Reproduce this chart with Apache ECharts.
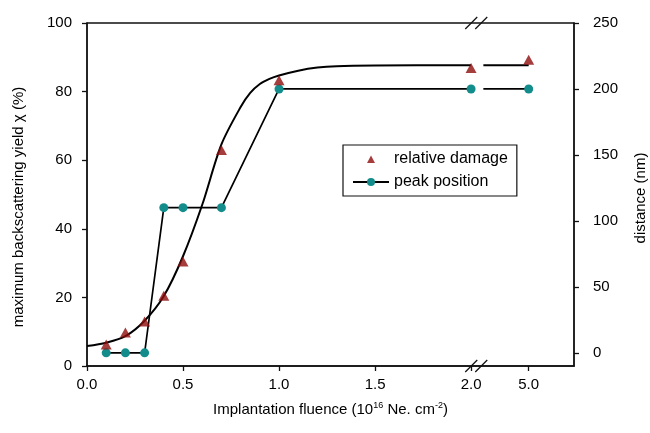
<!DOCTYPE html>
<html>
<head>
<meta charset="utf-8">
<script src="https://cdn.jsdelivr.net/npm/echarts@6/dist/echarts.min.js"></script>
<style>
  html, body { margin: 0; padding: 0; background: #fff; }
  #chart { width: 650px; height: 433px; }
</style>
</head>
<body>
<div id="chart"></div>
<script>
// Implantation fluence of each sample (10^16 Ne cm^-2)
const fluence = [0.1, 0.2, 0.3, 0.4, 0.5, 0.7, 1.0, 2.0, 5.0];
// Relative damage: maximum backscattering yield chi (%)
const relativeDamage = [6.3, 9.8, 13.0, 20.5, 30.5, 63.0, 83.3, 86.9, 89.3];
// Depth of the damage peak (nm)
const peakPosition = [0, 0, 0, 110, 110, 110, 200, 200, 200];
// Smooth trend through the damage values
const trendFluence = [0, 0.1, 0.2, 0.3, 0.4, 0.5, 0.6, 0.7, 0.8, 0.85, 0.9, 0.95, 1.0, 1.1, 1.2, 1.3, 1.5, 2.0, 5.0];
const trendYield = [5.8, 6.8, 8.7, 13.2, 20.4, 32.0, 47.0, 64.6, 75.5, 79.6, 82.2, 83.7, 84.7, 86.1, 87.0, 87.4, 87.6, 87.7, 87.7];
// Axis ticks
const xTickFluence = [0, 0.5, 1.0, 1.5, 2.0, 5.0];
const xTickLabels = ['0.0', '0.5', '1.0', '1.5', '2.0', '5.0'];
const yLeftTicks = [0, 20, 40, 60, 80, 100];
const yRightTicks = [0, 50, 100, 150, 200, 250];

// Broken x axis: linear up to 2.0, the stretch beyond is compressed.
const BREAK_FROM = 2.0;
const COMPRESS = 0.1;
const BREAK_MARK = 2.027;   // where the "//" marks sit
const RESUME_AT = 2.064;    // lines pick up again after the break
function toAxis(f) {
  return f <= BREAK_FROM ? f : BREAK_FROM + (f - BREAK_FROM) * COMPRESS;
}

// split a series into the part before the break and the part after it
function splitAtBreak(xs, ys) {
  const head = [], tail = [];
  xs.forEach((f, i) => {
    if (f <= BREAK_FROM) head.push([toAxis(f), ys[i]]);
    else tail.push([toAxis(f), ys[i]]);
  });
  const last = head[head.length - 1];
  tail.unshift({ value: [RESUME_AT, last[1]], symbol: 'none' });
  return { head, tail };
}

const trend = splitAtBreak(trendFluence, trendYield);
const peak = splitAtBreak(fluence, peakPosition);
const damage = fluence.map((f, i) => [toAxis(f), relativeDamage[i]]);

const xTickPos = xTickFluence.map(toAxis);
const FONT = '"Liberation Sans", Arial, sans-serif';
const DAMAGE_COLOR = '#8e0c0c';
const PEAK_COLOR = '#138c8c';

const chart = echarts.init(document.getElementById('chart'), null, { renderer: 'canvas' });

const labelStyle = { color: '#000', fontSize: 15, fontFamily: FONT };

chart.setOption({
  animation: false,
  backgroundColor: '#fff',
  grid: {
    left: 87, right: 76, top: 23, bottom: 67,
    show: true, borderColor: '#111', borderWidth: 1.3, backgroundColor: 'transparent'
  },
  legend: {
    orient: 'vertical',
    left: 343, top: 145,
    padding: [6, 9, 6, 9],
    borderColor: '#111', borderWidth: 1.2,
    itemWidth: 36, itemHeight: 10, itemGap: 7,
    data: [
      // small triangle centred in the wide icon box
      { name: 'relative damage', icon: 'path://M0,0M36,10M14,9L18,1.5L22,9Z' },
      { name: 'peak position' }
    ],
    textStyle: { color: '#000', fontSize: 16, fontFamily: FONT, lineHeight: 16 }
  },
  xAxis: {
    type: 'value', min: 0, max: 2.536,
    axisLine: { lineStyle: { color: '#111', width: 1.5 } },
    axisTick: { show: true, length: 5, customValues: xTickPos, lineStyle: { color: '#111', width: 1.3 } },
    axisLabel: {
      ...labelStyle, margin: 11,
      customValues: xTickPos,
      formatter: v => {
        const i = xTickPos.findIndex(p => Math.abs(p - v) < 1e-6);
        return i >= 0 ? xTickLabels[i] : '';
      }
    },
    splitLine: { show: false }
  },
  yAxis: [
    {
      type: 'value', min: 0, max: 100, interval: 20, position: 'left',
      axisLine: { show: true, lineStyle: { color: '#111', width: 1.5 } },
      axisTick: { show: true, length: 5, customValues: yLeftTicks, lineStyle: { color: '#111', width: 1.3 } },
      axisLabel: { ...labelStyle, margin: 15, customValues: yLeftTicks },
      splitLine: { show: false }
    },
    {
      type: 'value', min: -10, max: 250, position: 'right',
      axisLine: { show: true, lineStyle: { color: '#111', width: 1.5 } },
      axisTick: { show: true, length: 5, customValues: yRightTicks, lineStyle: { color: '#111', width: 1.3 } },
      axisLabel: { ...labelStyle, margin: 19, customValues: yRightTicks },
      splitLine: { show: false }
    }
  ],
  series: [
    {
      name: 'trend', type: 'line', yAxisIndex: 0, data: trend.head,
      smooth: 0.3, symbol: 'none', z: 2,
      lineStyle: { color: '#000', width: 2 }
    },
    {
      name: 'trend tail', type: 'line', yAxisIndex: 0, data: trend.tail,
      symbol: 'none', z: 2, lineStyle: { color: '#000', width: 2 }
    },
    {
      name: 'peak position', type: 'line', yAxisIndex: 1, data: peak.head,
      symbol: 'circle', symbolSize: 9, z: 3,
      lineStyle: { color: '#000', width: 1.7 },
      itemStyle: { color: PEAK_COLOR }
    },
    {
      name: 'peak tail', type: 'line', yAxisIndex: 1, data: peak.tail,
      symbol: 'circle', symbolSize: 9, z: 3,
      lineStyle: { color: '#000', width: 1.7 },
      itemStyle: { color: PEAK_COLOR }
    },
    {
      name: 'relative damage', type: 'scatter', yAxisIndex: 0, data: damage,
      symbol: 'triangle', symbolSize: [11, 10], z: 4,
      itemStyle: { color: DAMAGE_COLOR }
    }
  ]
});

// axis titles and the break marks on the bottom and top axes
const rect = chart.getModel().getComponent('grid').coordinateSystem.getRect();
const xb = chart.convertToPixel({ xAxisIndex: 0 }, BREAK_MARK);
function breakMark(y) {
  return [
    { type: 'line', shape: { x1: xb - 11, y1: y + 6, x2: xb + 1, y2: y - 6 }, style: { stroke: '#111', lineWidth: 1.3 }, z: 10 },
    { type: 'line', shape: { x1: xb - 1, y1: y + 6, x2: xb + 11, y2: y - 6 }, style: { stroke: '#111', lineWidth: 1.3 }, z: 10 }
  ];
}

chart.setOption({
  graphic: [
    ...breakMark(rect.y + rect.height),
    ...breakMark(rect.y),
    {
      type: 'text', x: 19, y: 207, rotation: Math.PI / 2,
      style: {
        text: 'maximum backscattering yield \u03C7 (%)',
        fill: '#000', font: '15px ' + FONT, align: 'center', verticalAlign: 'middle'
      }
    },
    {
      type: 'text', x: 641, y: 198, rotation: Math.PI / 2,
      style: {
        text: 'distance (nm)',
        fill: '#000', font: '15px ' + FONT, align: 'center', verticalAlign: 'middle'
      }
    },
    {
      type: 'text', x: rect.x + rect.width / 2, y: 410,
      style: {
        text: 'Implantation fluence (10{sup|16} Ne. cm{sup|-2})',
        fill: '#000', font: '15px ' + FONT, align: 'center', verticalAlign: 'middle',
        rich: {
          sup: { fontSize: 9, fontFamily: FONT, fill: '#000', verticalAlign: 'top', lineHeight: 18 }
        }
      }
    }
  ]
});
</script>
</body>
</html>
